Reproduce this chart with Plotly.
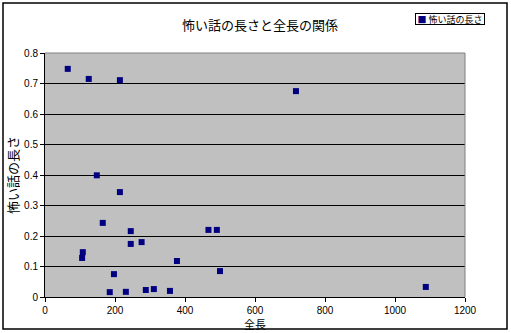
import plotly.graph_objects as go

# Data
total_length = [65, 125, 214, 148, 214, 165, 245, 245, 276, 108, 106, 197,
                185, 231, 288, 311, 357, 377, 467, 491, 500, 717, 1088]
story_length = [0.748, 0.715, 0.711, 0.399, 0.344, 0.243, 0.216, 0.174, 0.180,
                0.147, 0.128, 0.075, 0.016, 0.017, 0.023, 0.026, 0.020, 0.118,
                0.220, 0.220, 0.085, 0.675, 0.033]

series_name = "怖い話の長さ"
title_text = "怖い話の長さと全長の関係"
x_title = "全長"
y_title = "怖い話の長さ"
x_ticks = [0, 200, 400, 600, 800, 1000, 1200]
y_ticks = [0, 0.1, 0.2, 0.3, 0.4, 0.5, 0.6, 0.7, 0.8]

W, H = 511, 333
L, R, T, B = 45, 465, 53, 297
PW, PH = R - L, B - T

fig = go.Figure()
fig.add_trace(go.Scatter(
    x=total_length, y=story_length, mode="markers", name=series_name,
    marker=dict(symbol="square", size=6, color="#000080", line=dict(width=0)),
    showlegend=False,
))

font_jp = "Noto Sans CJK JP"
font_num = "Liberation Sans, Arial"

fig.update_layout(
    width=W, height=H,
    margin=dict(l=L, r=W - R, t=T, b=H - B, pad=0, autoexpand=False),
    paper_bgcolor="white", plot_bgcolor="#C0C0C0",
    title=dict(text=title_text, x=260 / W, xanchor="center", y=1 - 25 / H,
               yanchor="middle", font=dict(family=font_jp, size=13, color="black")),
    showlegend=False,
    xaxis=dict(range=[0, 1200], tickvals=x_ticks, ticks="outside", ticklen=4,
               tickcolor="black", tickwidth=1, showline=True, linecolor="black",
               linewidth=1, showgrid=False, zeroline=False, automargin=False,
               tickfont=dict(family=font_num, size=10, color="black"),
               title=dict(text=x_title, standoff=0,
                          font=dict(family=font_jp, size=11, color="black"))),
    yaxis=dict(range=[0, 0.8], tickvals=y_ticks, ticks="outside", ticklen=4,
               tickcolor="black", tickwidth=1, showline=True, linecolor="black",
               linewidth=1, showgrid=True, gridcolor="black", gridwidth=1,
               zeroline=False, automargin=False,
               tickfont=dict(family=font_num, size=10, color="black"),
               title=dict(text=y_title, standoff=2,
                          font=dict(family=font_jp, size=13, color="black"))),
)

# legend box drawn as annotation (matches the compact Excel legend)
fig.add_annotation(
    xref="paper", yref="paper", x=(415 - L) / PW, y=(B - 12.5) / PH,
    xanchor="left", yanchor="top", showarrow=False,
    text="<span style='color:#000080'>■</span> " + series_name,
    font=dict(family=font_jp, size=9, color="black"),
    bgcolor="white", bordercolor="black", borderwidth=1, borderpad=0,
    width=68, height=10, align="center",
)

# plot-area top/right border (gray) and outer chart border
fig.add_shape(type="line", xref="paper", yref="paper", x0=0, x1=1, y0=1, y1=1,
              line=dict(color="#808080", width=1))
fig.add_shape(type="line", xref="paper", yref="paper", x0=1, x1=1, y0=0, y1=1,
              line=dict(color="#808080", width=1))
fig.add_shape(type="rect", xref="paper", yref="paper",
              x0=(3 - L) / PW, x1=(507 - L) / PW,
              y0=(B - 329) / PH, y1=(B - 3) / PH,
              line=dict(color="black", width=1.5), fillcolor="rgba(0,0,0,0)", layer="below")

fig.write_html("out.html")
